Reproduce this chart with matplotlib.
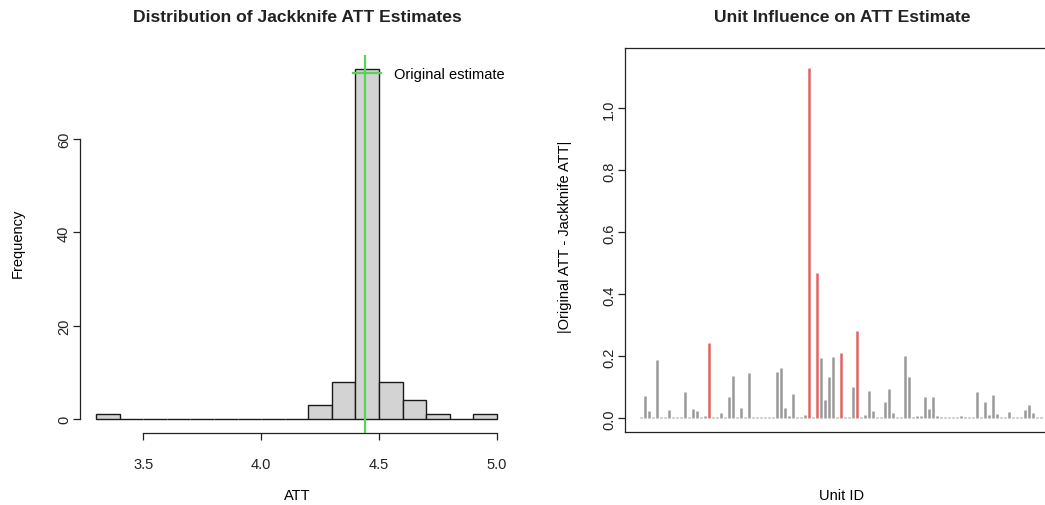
import matplotlib.pyplot as plt
from matplotlib.lines import Line2D

plt.rcParams["font.family"] = ["Liberation Sans", "DejaVu Sans"]

# jackknife ATT histogram
att_breaks = [3.3, 3.4, 3.5, 3.6, 3.7, 3.8, 3.9, 4.0, 4.1, 4.2,
              4.3, 4.4, 4.5, 4.6, 4.7, 4.8, 4.9, 5.0]
att_counts = [1, 0, 0, 0, 0, 0, 0, 0, 0, 3, 8, 75, 8, 4, 1, 0, 1]
original_att = 4.44
hist_xticks = [3.5, 4.0, 4.5, 5.0]
hist_yticks = [0, 20, 40, 60]

# |original - jackknife| for each dropped unit
influence = [
    0.005, 0.073, 0.025, 0.004, 0.189, 0.005, 0.004, 0.027, 0.004, 0.004,
    0.004, 0.086, 0.004, 0.030, 0.023, 0.004, 0.008, 0.242, 0.004, 0.004,
    0.017, 0.005, 0.070, 0.138, 0.004, 0.034, 0.004, 0.145, 0.004, 0.004,
    0.004, 0.004, 0.004, 0.004, 0.148, 0.163, 0.032, 0.009, 0.078, 0.004,
    0.004, 0.010, 1.130, 0.005, 0.470, 0.195, 0.059, 0.134, 0.199, 0.004,
    0.210, 0.004, 0.004, 0.100, 0.283, 0.004, 0.012, 0.089, 0.024, 0.005,
    0.004, 0.053, 0.095, 0.017, 0.004, 0.004, 0.200, 0.135, 0.004, 0.008,
    0.009, 0.069, 0.031, 0.070, 0.009, 0.004, 0.004, 0.005, 0.004, 0.004,
    0.008, 0.004, 0.004, 0.004, 0.084, 0.005, 0.054, 0.012, 0.074, 0.013,
    0.004, 0.004, 0.019, 0.004, 0.006, 0.004, 0.028, 0.043, 0.017, 0.004,
    0.006,
]
unit_ids = list(range(1, len(influence) + 1))
infl_yticks = [0.0, 0.2, 0.4, 0.6, 0.8, 1.0]
high_cutoff = 0.205

W, H = 1045, 506
AX_COL = "#222222"
GREEN = "#55d455"
FS = 10.5


def px_axes(fig, left, right, top, bottom):
    """Add axes placed by pixel edges (may run past the figure)."""
    return fig.add_axes([left / W, 1 - bottom / H, (right - left) / W, (bottom - top) / H])


def style_ticks(ax):
    ax.tick_params(axis="both", direction="out", length=5, width=0.9,
                   color=AX_COL, labelsize=FS, labelcolor="#222222")
    ax.tick_params(axis="y", pad=1.5, labelrotation=90)
    ax.tick_params(axis="x", pad=12)
    for lab in ax.get_yticklabels():
        lab.set_va("center")


fig = plt.figure(figsize=(W / 100, H / 100), dpi=100)

# ---- left: histogram ----
ax1 = px_axes(fig, 80, 513, 56, 434)
lefts = att_breaks[:-1]
widths = [b - a for a, b in zip(att_breaks[:-1], att_breaks[1:])]
ax1.bar(lefts, att_counts, width=widths, align="edge", color="#d3d3d3",
        edgecolor="#1a1a1a", linewidth=1.0, zorder=2)
ax1.axvline(original_att, color=GREEN, lw=1.6, zorder=3)

span = att_breaks[-1] - att_breaks[0]
ax1.set_xlim(att_breaks[0] - 0.04 * span, att_breaks[-1] + 0.04 * span)
ymax = max(att_counts)
ax1.set_ylim(-0.04 * ymax, 1.04 * ymax)
ax1.set_xticks(hist_xticks)
ax1.set_xticklabels([f"{t:.1f}" for t in hist_xticks])
ax1.set_yticks(hist_yticks)
for side in ("top", "right"):
    ax1.spines[side].set_visible(False)
ax1.spines["bottom"].set_bounds(hist_xticks[0], hist_xticks[-1])
ax1.spines["left"].set_bounds(hist_yticks[0], hist_yticks[-1])
for side in ("bottom", "left"):
    ax1.spines[side].set_color(AX_COL)
    ax1.spines[side].set_linewidth(0.9)
style_ticks(ax1)

ax1.legend(handles=[Line2D([], [], color=GREEN, lw=1.6)],
           labels=["Original estimate"], loc="upper right",
           bbox_to_anchor=(1.007, 1.0), frameon=False, fontsize=FS,
           handlelength=1.9, handletextpad=0.9, borderaxespad=0.4)

# ---- right: per-unit influence ----
ax2 = px_axes(fig, 625, 1057, 49, 433)
gray_x = [u for u, v in zip(unit_ids, influence) if v <= high_cutoff]
gray_y = [v for v in influence if v <= high_cutoff]
red_x = [u for u, v in zip(unit_ids, influence) if v > high_cutoff]
red_y = [v for v in influence if v > high_cutoff]
ax2.vlines(gray_x, 0, gray_y, color="#999999", lw=1.8, capstyle="butt")
ax2.vlines(red_x, 0, red_y, color="#e06464", lw=1.8, capstyle="butt")

n = len(influence)
ax2.set_xlim(1 - 0.04 * (n - 1), n + 0.04 * (n - 1))
ax2.set_ylim(-0.044, 1.195)
ax2.set_xticks([])
ax2.set_yticks(infl_yticks)
ax2.set_yticklabels([f"{t:.1f}" for t in infl_yticks])
for sp in ax2.spines.values():
    sp.set_color(AX_COL)
    sp.set_linewidth(0.9)
style_ticks(ax2)

# titles and axis labels
fig.text(297 / W, 1 - 18 / H, "Distribution of Jackknife ATT Estimates",
         ha="center", va="center", fontsize=12.6, fontweight="bold", color="#222222")
fig.text(842 / W, 1 - 18 / H, "Unit Influence on ATT Estimate",
         ha="center", va="center", fontsize=12.6, fontweight="bold", color="#222222")
fig.text(297 / W, 1 - 496 / H, "ATT", ha="center", va="center", fontsize=FS)
fig.text(842 / W, 1 - 496 / H, "Unit ID", ha="center", va="center", fontsize=FS)
fig.text(18 / W, 1 - 243 / H, "Frequency", ha="center", va="center",
         rotation=90, fontsize=FS)
fig.text(565 / W, 1 - 237 / H, "|Original ATT - Jackknife ATT|", ha="center",
         va="center", rotation=90, fontsize=FS)

fig.savefig("out.png", dpi=100)
